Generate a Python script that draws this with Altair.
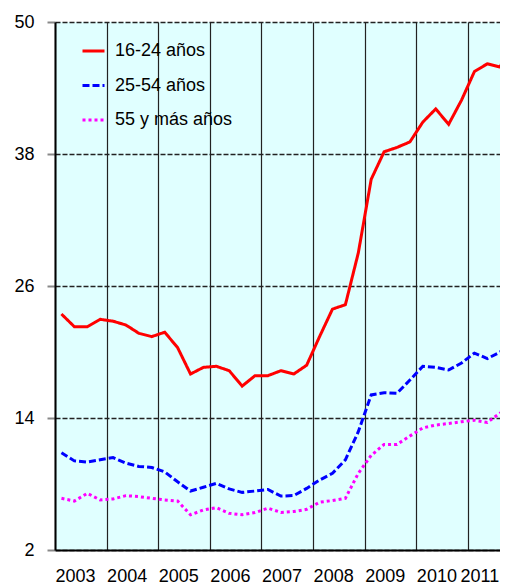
import altair as alt
import pandas as pd

years = list(range(2003, 2012))
series_names = ["16-24 años", "25-54 años", "55 y más años"]
y_ticks = [2, 14, 26, 38, 50]

v_16_24 = [23.45, 22.3, 22.3, 22.97, 22.8, 22.45, 21.7, 21.4, 21.8, 20.4,
           18.0, 18.6, 18.7, 18.3, 16.9, 17.85, 17.85, 18.3, 18.0, 18.8,
           21.4, 23.9, 24.3, 29.0, 35.7, 38.2, 38.6, 39.1, 40.9, 42.1,
           40.7, 42.9, 45.5, 46.2, 45.9, 49.1]
v_25_54 = [10.85, 10.1, 10.0, 10.2, 10.4, 9.9, 9.6, 9.5, 9.1, 8.2,
           7.36, 7.7, 8.06, 7.55, 7.24, 7.36, 7.5, 6.9, 6.95, 7.6,
           8.36, 8.97, 10.2, 12.75, 16.1, 16.3, 16.25, 17.45, 18.7, 18.6,
           18.36, 19.0, 19.9, 19.4, 20.0, 21.5]
v_55 = [6.7, 6.45, 7.15, 6.55, 6.64, 6.94, 6.85, 6.7, 6.55, 6.45,
        5.2, 5.64, 5.85, 5.33, 5.2, 5.4, 5.8, 5.42, 5.5, 5.7,
        6.34, 6.5, 6.7, 8.97, 10.6, 11.6, 11.6, 12.36, 13.1, 13.36,
        13.5, 13.66, 13.8, 13.6, 14.45, 15.2]

quarters = [y + (q - 0.5) / 4 for y in years for q in range(1, 5)]

rows = []
for name, vals in zip(series_names, [v_16_24, v_25_54, v_55]):
    for t, v in zip(quarters, vals):
        rows.append({"t": t, "v": v, "serie": name})
df = pd.DataFrame(rows)

FONT = "Liberation Sans"

legend_cfg = alt.Legend(
    orient="none", legendX=26, legendY=16.5, title=None,
    symbolType="stroke", symbolSize=484, symbolStrokeWidth=3,
    labelFontSize=18, labelFont=FONT, labelColor="#000",
    labelOffset=9, rowPadding=12.5, padding=0,
)

color_scale = alt.Scale(domain=series_names, range=["#FF0000", "#0000FF", "#FF00FF"])
dash_scale = alt.Scale(domain=series_names, range=[[1, 0], [7, 3], [3, 3]])

chart = alt.Chart(df).mark_line(strokeWidth=3, clip=True, strokeCap="butt").encode(
    x=alt.X("t:Q",
            scale=alt.Scale(domain=[2003, 2011.62], nice=False, zero=False),
            axis=alt.Axis(values=years, format="d", title=None, labelAlign="left",
                          labelFlush=False, labelOverlap=False, ticks=False, tickSize=0,
                          labelOffset={"condition": {"test": "datum.value == 2011", "value": -8}, "value": 0},
                          labelPadding=17, grid=True, gridColor="#222", gridWidth=1.2,
                          domainColor="#000", domainWidth=2, labelFontSize=18,
                          labelFont=FONT, labelColor="#000")),
    y=alt.Y("v:Q",
            scale=alt.Scale(domain=[2, 50], nice=False, zero=False),
            axis=alt.Axis(values=y_ticks, title=None, grid=True, gridDash=[5, 2],
                          gridColor="#222", gridWidth=1.5, tickColor="#888", tickWidth=2,
                          tickSize=8, labelPadding=13, domainColor="#000", domainWidth=2,
                          labelFontSize=18, labelFont=FONT, labelColor="#000",
                          labelFlush=False, labelOverlap=False)),
    color=alt.Color("serie:N", scale=color_scale, sort=series_names, legend=legend_cfg),
    strokeDash=alt.StrokeDash("serie:N", scale=dash_scale, sort=series_names, legend=legend_cfg),
).properties(
    width=445, height=528,
    autosize=alt.AutoSizeParams(type="none"),
    padding={"left": 47, "top": 14, "right": 0, "bottom": 34},
).configure(font=FONT).configure_view(fill="#E0FFFF", strokeWidth=0)

chart.save("out.html", embed_options={"renderer": "svg", "actions": False})
